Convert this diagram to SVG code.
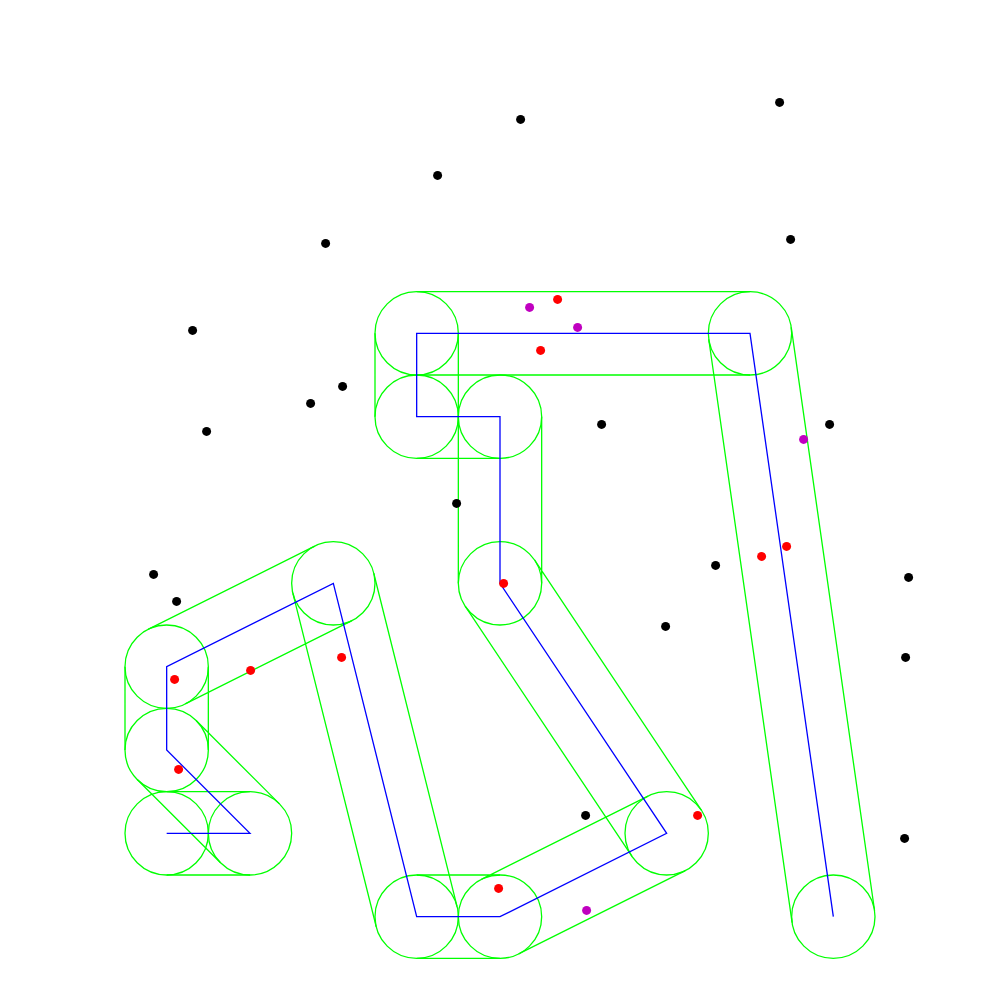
<svg xmlns="http://www.w3.org/2000/svg" width="1000" height="1000" viewBox="0 0 1000 1000">
<style>
.g{fill:none;stroke:#00ff00;stroke-width:1.3}
.b{fill:none;stroke:#0000ff;stroke-width:1.3}
.k{fill:#000}
.r{fill:#ff0000}
.m{fill:#c000c0}
</style>
<rect width="1000" height="1000" fill="#fff"/>
<g id="buffer">
<g id="circles" class="g">
<circle cx="166.67" cy="833.33" r="41.67"/>
<circle cx="250" cy="833.33" r="41.67"/>
<circle cx="166.67" cy="750" r="41.67"/>
<circle cx="166.67" cy="666.67" r="41.67"/>
<circle cx="333.33" cy="583.33" r="41.67"/>
<circle cx="416.67" cy="916.67" r="41.67"/>
<circle cx="500" cy="916.67" r="41.67"/>
<circle cx="666.67" cy="833.33" r="41.67"/>
<circle cx="500" cy="583.33" r="41.67"/>
<circle cx="500" cy="416.67" r="41.67"/>
<circle cx="416.67" cy="416.67" r="41.67"/>
<circle cx="416.67" cy="333.33" r="41.67"/>
<circle cx="750" cy="333.33" r="41.67"/>
<circle cx="833.33" cy="916.67" r="41.67"/>
</g>
<path id="edges" class="g" d="M166.67,791.67H250M166.67,875H250
M279.46,803.87L196.13,720.54M220.54,862.80L137.20,779.46
M125,750V666.67M208.33,750V666.67
M185.30,703.93L351.97,620.60M148.03,629.40L314.70,546.07
M373.76,573.23L457.09,906.56M292.91,593.44L376.24,926.77
M416.67,875H500M416.67,958.33H500
M518.63,953.94L685.30,870.60M481.37,879.40L648.03,796.07
M701.34,810.22L534.67,560.22M632.00,856.44L465.33,606.44
M458.33,583.33V416.67M541.67,583.33V416.67
M500,375H416.67M500,458.33H416.67
M375,416.67V333.33M458.33,416.67V333.33
M416.67,291.67H750M416.67,375H750
M791.25,327.44L874.58,910.77M708.75,339.23L792.09,922.56"/>
</g>
<g id="connectors">
<polyline class="b" points="166.67,833.33 250,833.33 166.67,750 166.67,666.67 333.33,583.33 416.67,916.67 500,916.67 666.67,833.33 500,583.33 500,416.67 416.67,416.67 416.67,333.33 750,333.33 833.33,916.67"/>
</g>
<g id="points" transform="translate(0.6,0.4)">
<g class="k">
<circle cx="779" cy="102" r="4.5"/><circle cx="520" cy="119" r="4.5"/><circle cx="437" cy="175" r="4.5"/>
<circle cx="790" cy="239" r="4.5"/><circle cx="325" cy="243" r="4.5"/><circle cx="192" cy="330" r="4.5"/>
<circle cx="342" cy="386" r="4.5"/><circle cx="310" cy="403" r="4.5"/><circle cx="206" cy="431" r="4.5"/>
<circle cx="601" cy="424" r="4.5"/><circle cx="829" cy="424" r="4.5"/><circle cx="456" cy="503" r="4.5"/>
<circle cx="715" cy="565" r="4.5"/><circle cx="908" cy="577" r="4.5"/><circle cx="153" cy="574" r="4.5"/>
<circle cx="176" cy="601" r="4.5"/><circle cx="665" cy="626" r="4.5"/><circle cx="905" cy="657" r="4.5"/>
<circle cx="585" cy="815" r="4.5"/><circle cx="904" cy="838" r="4.5"/>
</g>
<g class="r">
<circle cx="557" cy="299" r="4.5"/><circle cx="540" cy="350" r="4.5"/><circle cx="786" cy="546" r="4.5"/>
<circle cx="761" cy="556" r="4.5"/><circle cx="503" cy="583" r="4.5"/><circle cx="341" cy="657" r="4.5"/>
<circle cx="250" cy="670" r="4.5"/><circle cx="174" cy="679" r="4.5"/><circle cx="178" cy="769" r="4.5"/>
<circle cx="697" cy="815" r="4.5"/><circle cx="498" cy="888" r="4.5"/>
</g>
<g class="m">
<circle cx="529" cy="307" r="4.5"/><circle cx="577" cy="327" r="4.5"/><circle cx="803" cy="439" r="4.5"/>
<circle cx="586" cy="910" r="4.5"/>
</g>
</g>
</svg>
